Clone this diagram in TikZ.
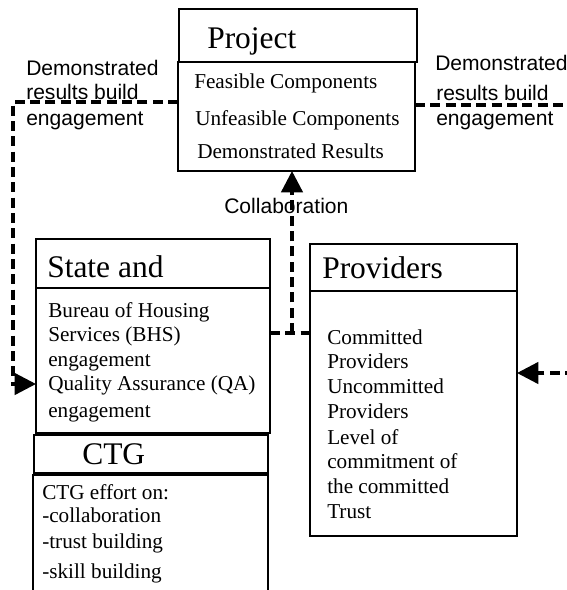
\documentclass[tikz,border=0pt]{standalone}
\usepackage{fontspec}
\setmainfont{Liberation Serif}
\newfontfamily\lsans{Liberation Sans}
\usetikzlibrary{arrows.meta}
\begin{document}
\begin{tikzpicture}[x={(0.75pt,0)},y={(0,-0.75pt)},
 box/.style={draw, line width=1.3pt, anchor=north west, inner sep=0pt, outer sep=0pt},
 tx/.style={anchor=base west, inner sep=0pt, font=\fontsize{15.9}{18}\selectfont},
 ttl/.style={anchor=base west, inner sep=0pt, font=\fontsize{23.6}{26}\selectfont},
 lbl/.style={anchor=base west, inner sep=0pt, font=\lsans\fontsize{15.8}{18}\selectfont},
 dashln/.style={line width=2.5pt, dash pattern=on 7.5pt off 4pt},
 tip/.style={-{Triangle[length=16pt,width=16pt]}}]
\useasboundingbox (0,0) rectangle (567,590);
\clip (0,0) rectangle (567,590);
% boxes
\node[box, minimum width=178.5pt, minimum height=39.75pt] (projT) at (179,9) {};
\node[box, minimum width=177.75pt, minimum height=81.75pt] (projB) at (178,62) {};
\node[box, minimum width=175.5pt, minimum height=36.75pt] (stateT) at (36,239) {};
\node[box, minimum width=175.5pt, minimum height=108.75pt] (stateB) at (36,288) {};
\node[box, minimum width=175.5pt, minimum height=28.5pt] (ctgT) at (34,435) {};
\node[box, minimum width=176.25pt, minimum height=97.5pt] (ctgB) at (33,475) {};
\node[box, minimum width=155.25pt, minimum height=35.25pt] (provT) at (310,244) {};
\node[box, minimum width=155.25pt, minimum height=183.75pt] (provB) at (310,291) {};
% titles
\node[ttl] (tProj) at (207,48) {Project};
\node[ttl] (tState) at (47,277) {State and};
\node[ttl] (tCtg) at (82,464) {CTG};
\node[ttl] (tProv) at (322,278) {Providers};
% project body
\node[tx] (p1) at (194,88) {Feasible Components};
\node[tx] (p2) at (195,125) {Unfeasible Components};
\node[tx] (p3) at (197,158) {Demonstrated Results};
% state body
\node[tx] (s1) at (48,317) {Bureau of Housing};
\node[tx] (s2) at (48,341) {Services (BHS)};
\node[tx] (s3) at (48,366) {engagement};
\node[tx] (s4) at (48,390) {Quality Assurance (QA)};
\node[tx] (s5) at (48,417) {engagement};
% ctg body
\node[tx] (c1) at (42,499) {CTG effort on:};
\node[tx] (c2) at (42,522) {-collaboration};
\node[tx] (c3) at (42,548) {-trust building};
\node[tx] (c4) at (42,578) {-skill building};
% providers body
\node[tx] (v1) at (327,344) {Committed};
\node[tx] (v2) at (327,368) {Providers};
\node[tx] (v3) at (327,393) {Uncommitted};
\node[tx] (v4) at (327,418) {Providers};
\node[tx] (v5) at (327,444) {Level of};
\node[tx] (v6) at (327,468) {commitment of};
\node[tx] (v7) at (327,493) {the committed};
\node[tx] (v8) at (327,518) {Trust};
% labels
\node[lbl] (l1) at (26,75) {Demonstrated};
\node[lbl] (l2) at (26,99) {results build};
\node[lbl] (l3) at (26,125) {engagement};
\node[lbl] (r1) at (435,70) {Demonstrated};
\node[lbl] (r2) at (436,100) {results build};
\node[lbl] (r3) at (436,125) {engagement};
\node[lbl] (col) at (224,213) {Collaboration};
% connectors
\coordinate (lc1) at (13,102);
\coordinate (lc2) at (13,384);
\draw[dashln, tip] (projB.west |- lc1) -- (lc1) -- (lc2) -- (stateB.west |- lc2);
\coordinate (rc1) at (575,105);
\draw[dashln] (projB.east |- rc1) -- (rc1);
\coordinate (rc2) at (575,373);
\draw[dashln, tip] (rc2) -- (provB.east |- rc2);
\coordinate (jn) at (292,333);
\draw[dashln] (stateB.east |- jn) -- (provB.west |- jn);
\draw[dashln, tip] (jn) -- (projB.south -| jn);
\end{tikzpicture}
\end{document}
